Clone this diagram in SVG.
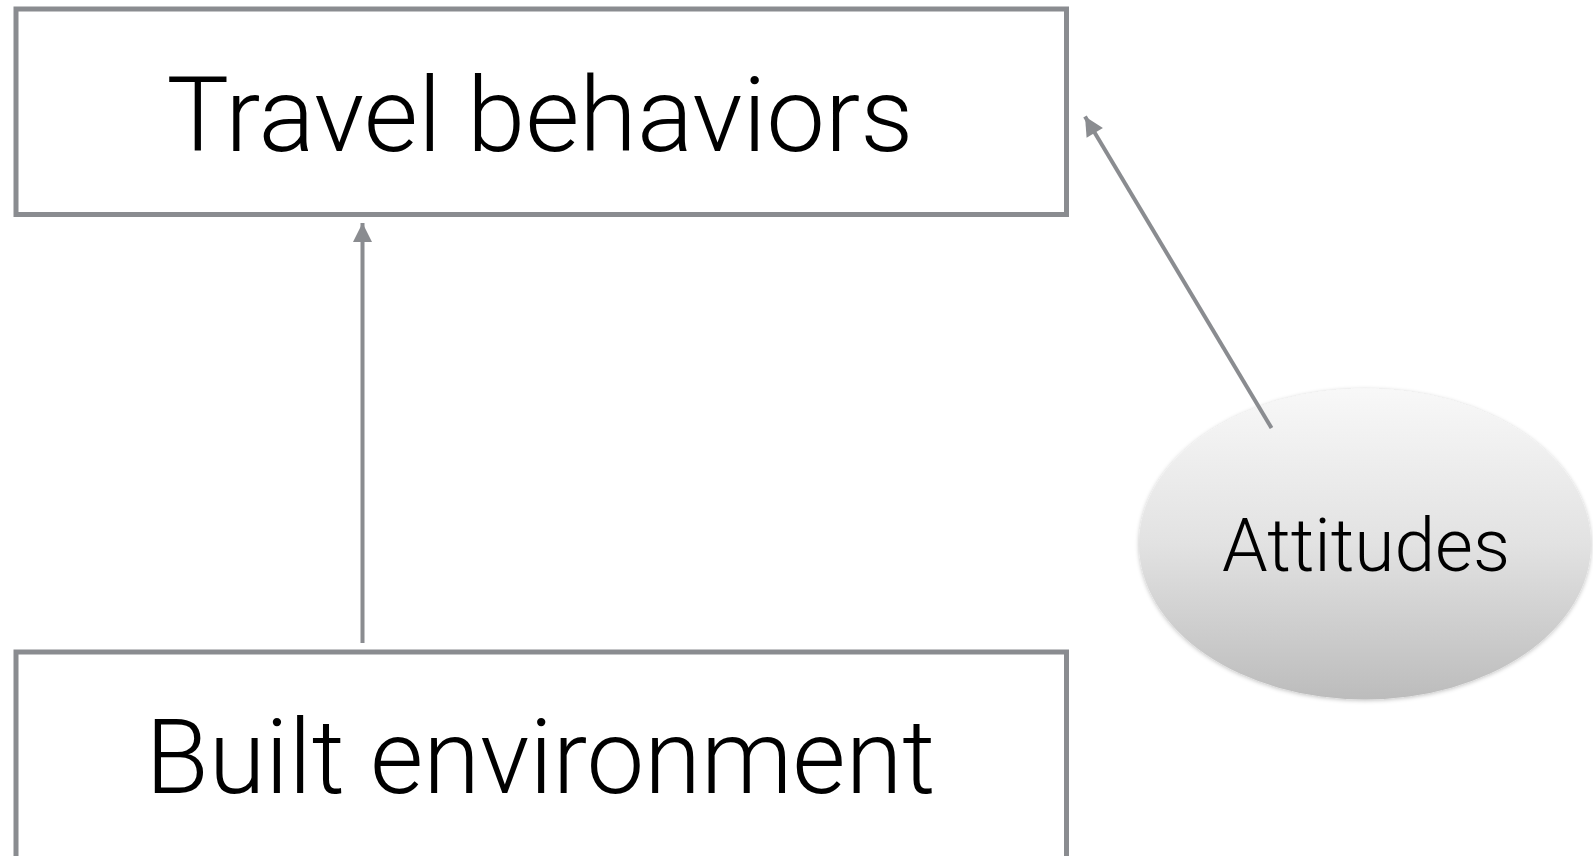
<svg xmlns="http://www.w3.org/2000/svg" width="1593" height="856" viewBox="0 0 1593 856">
  <style>
    .box { fill: #ffffff; stroke: #8a8c90; stroke-width: 5; }
    .label { font-family: Roboto, "Liberation Sans", Arial, sans-serif; font-weight: 300; fill: #000000; text-anchor: middle; }
    .edge { stroke: #8a8c90; stroke-width: 4; fill: none; marker-end: url(#arrow); }
  </style>
  <defs>
    <marker id="arrow" viewBox="0 0 20 20" refX="20" refY="10" markerUnits="userSpaceOnUse" markerWidth="20" markerHeight="19" orient="auto">
      <path d="M0,0 L20,10 L0,20 z" fill="#8a8c90"/>
    </marker>
    <linearGradient id="bubbleFill" x1="0" y1="0" x2="0" y2="1">
      <stop offset="0" stop-color="#f8f8f8"/>
      <stop offset="0.5" stop-color="#e2e2e2"/>
      <stop offset="1" stop-color="#bcbcbc"/>
    </linearGradient>
    <filter id="soft" x="-10%" y="-10%" width="120%" height="120%">
      <feGaussianBlur in="SourceAlpha" stdDeviation="2"/>
      <feOffset dx="0" dy="1" result="b"/>
      <feFlood flood-color="#000000" flood-opacity="0.25"/>
      <feComposite in2="b" operator="in"/>
      <feMerge>
        <feMergeNode/>
        <feMergeNode in="SourceGraphic"/>
      </feMerge>
    </filter>
  </defs>

  <rect width="1593" height="856" fill="#ffffff"/>

  <g id="travel-behaviors">
    <rect class="box" x="16" y="9" width="1050.5" height="205.5"/>
    <text class="label" x="540" y="151" font-size="104" textLength="747" lengthAdjust="spacingAndGlyphs">Travel behaviors</text>
  </g>

  <g id="built-environment">
    <rect class="box" x="16" y="652" width="1050.5" height="215"/>
    <text class="label" x="540.5" y="793" font-size="103" textLength="790" lengthAdjust="spacingAndGlyphs">Built environment</text>
  </g>

  <g id="attitudes">
    <ellipse cx="1365" cy="544" rx="226" ry="155.5" fill="url(#bubbleFill)" filter="url(#soft)"/>
    <text class="label" x="1366" y="571" font-size="74" textLength="288" lengthAdjust="spacingAndGlyphs">Attitudes</text>
  </g>

  <g id="connectors">
    <line class="edge" x1="362.5" y1="643" x2="362.5" y2="223"/>
    <line class="edge" x1="1271.5" y1="428" x2="1085" y2="116.5"/>
  </g>
</svg>
